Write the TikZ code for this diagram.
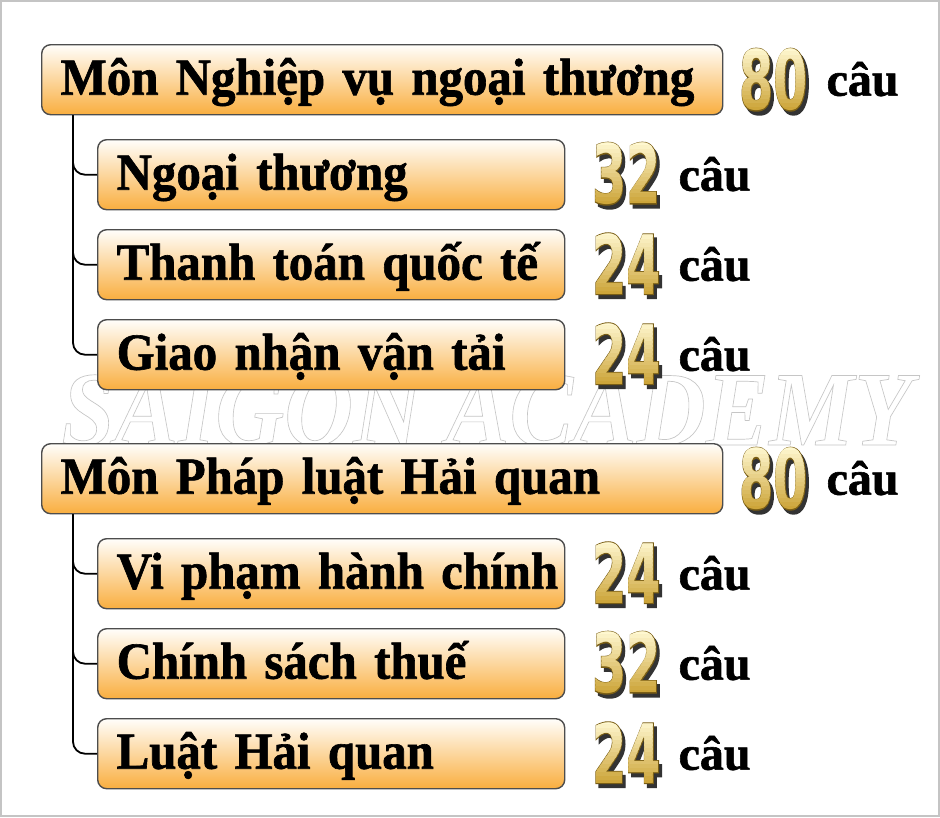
\documentclass[tikz,border=0pt]{standalone}
\usepackage{fontspec}
\usepackage{graphicx}
\setmainfont{Liberation Serif}
\newfontfamily\boxfont{Liberation Serif}[UprightFont=* Bold, FakeBold=1.2, FakeStretch=0.94]
\newfontfamily\caufont{Liberation Serif}[UprightFont=* Bold, FakeBold=1.2]
\newfontfamily\wmfont{Liberation Serif}[UprightFont=* Bold Italic]
\newfontfamily\numfont{DejaVu Sans}[UprightFont=* Bold]
\newfontfamily\numfontO{DejaVu Sans}[UprightFont=* Bold, FakeBold=2.5]
\definecolor{boxline}{HTML}{4D4D4D}
\definecolor{boxtop}{HTML}{FFFEFB}
\definecolor{boxbot}{HTML}{F9AE3F}
\definecolor{frameline}{HTML}{C4C4C4}
\definecolor{goldline}{HTML}{7A5E14}
\definecolor{glight}{HTML}{FFF8D0}
\definecolor{gdark}{HTML}{CDA53A}
\newcommand\numtxt[1]{\scalebox{0.6}[1]{#1}}
\tikzset{
  mainbox/.style={draw=boxline, line width=1.4pt, rounded corners=9pt,
    top color=boxtop, bottom color=boxbot, anchor=north west,
    minimum height=70pt, inner xsep=19pt, inner ysep=0pt,
    text height=32pt, text depth=2pt, align=left,
    font=\boxfont\fontsize{52}{52}\selectfont, text width=643pt},
  subbox/.style={mainbox, text width=429pt},
  caustyle/.style={anchor=base west, inner sep=0pt, font=\caufont\fontsize{48}{48}\selectfont},
  conn/.style={line width=1.8pt, rounded corners=12pt},
  numfill/.style={inner sep=0pt, font=\numfont\fontsize{82}{82}\selectfont},
  numoutline/.style={numfill, font=\numfontO\fontsize{82}{82}\selectfont, text=goldline},
  numshadow/.style={numoutline, text=black!80},
}
\newcommand\goldnum[3]{%
  \node[numshadow] at ([xshift=3pt,yshift=-4pt]#2) {\numtxt{#3}};
  \node[numoutline] at (#2) {\numtxt{#3}};
  \foreach \kk in {0,...,15}{%
    \pgfmathtruncatemacro\pct{100-\kk*100/15}%
    \begin{scope}
      \clip ([xshift=-60pt,yshift={32pt-\kk*4pt}]#2) rectangle ([xshift=60pt,yshift={27.5pt-\kk*4pt}]#2);
      \node[numfill,text=glight!\pct!gdark] at (#2) {\numtxt{#3}};
    \end{scope}}%
  \node[numfill,text opacity=0] (#1) at (#2) {\numtxt{#3}};%
}
\begin{document}
\begin{tikzpicture}[x=1pt,y=-1pt]
\useasboundingbox (0,0) rectangle (940,817);
\fill[white] (0,0) rectangle (940,817);
\draw[frameline, line width=1.5pt] (1,1) rectangle (939,816);
% watermark
\node[anchor=base, inner sep=0pt, text=gray!45, font=\wmfont\fontsize{106}{106}\selectfont] (wm) at (487,445)
  {\scalebox{0.9}[1]{\special{pdf:code 1 Tr 0.7 w}SAIGON ACADEMY\special{pdf:code 0 Tr}}};
% boxes
\node[mainbox] (m1) at (41,44) {\mbox{Môn Nghiệp vụ ngoại thương}};
\node[subbox] (s1) at (97,139) {\mbox{Ngoại thương}};
\node[subbox] (s2) at (97,229) {\mbox{Thanh toán quốc tế}};
\node[subbox] (s3) at (97,319) {\mbox{Giao nhận vận tải}};
\node[mainbox] (m2) at (41,443) {\mbox{Môn Pháp luật Hải quan}};
\node[subbox] (s4) at (97,538) {\mbox{Vi phạm hành chính}};
\node[subbox] (s5) at (97,628) {\mbox{Chính sách thuế}};
\node[subbox] (s6) at (97,718) {\mbox{Luật Hải quan}};
% connectors
\foreach \t in {s1,s2,s3}{\draw[conn] ([xshift=32pt]m1.south west) |- (\t.west);}
\foreach \t in {s4,s5,s6}{\draw[conn] ([xshift=32pt]m2.south west) |- (\t.west);}
% numbers
\coordinate (p1) at ([xshift=50pt,yshift=0pt]m1.east);
\coordinate (p2) at ([xshift=50pt,yshift=0pt]m2.east);
\foreach \t in {s1,s2,s3,s4,s5,s6}{\coordinate (p\t) at ([xshift=61pt,yshift=1pt]\t.east);}
\goldnum{n1}{p1}{80}
\goldnum{n2}{p2}{80}
\goldnum{ns1}{ps1}{32}
\goldnum{ns2}{ps2}{24}
\goldnum{ns3}{ps3}{24}
\goldnum{ns4}{ps4}{24}
\goldnum{ns5}{ps5}{32}
\goldnum{ns6}{ps6}{24}
% cau labels
\node[caustyle] (c1) at ([xshift=103pt,yshift=-16pt]m1.east) {câu};
\node[caustyle] (c2) at ([xshift=103pt,yshift=-16pt]m2.east) {câu};
\foreach \t in {s1,s2,s3,s4,s5,s6}{\node[caustyle] (c\t) at ([xshift=113pt,yshift=-16pt]\t.east) {câu};}
\end{tikzpicture}
\end{document}
